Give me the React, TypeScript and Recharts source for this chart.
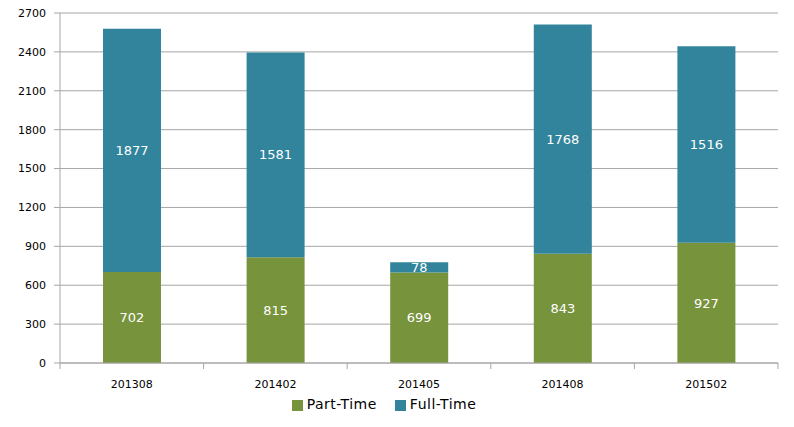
import { BarChart, Bar, XAxis, YAxis, CartesianGrid, Legend, LabelList } from "recharts";

const periods = ["201308", "201402", "201405", "201408", "201502"];
const partTime = [702, 815, 699, 843, 927];
const fullTime = [1877, 1581, 78, 1768, 1516];
const yTicks = [0, 300, 600, 900, 1200, 1500, 1800, 2100, 2400, 2700];

const data = periods.map((p, i) => ({
  period: p,
  idx: i + 0.5,
  part: partTime[i],
  full: fullTime[i],
}));

const font = "Tahoma, 'DejaVu Sans', sans-serif";

export default function App() {
  return (
    <div style={{ fontFamily: font }}>
      <BarChart
        width={778}
        height={411}
        data={data}
        margin={{ top: 5, right: 8, bottom: 7, left: 0 }}
      >
        <CartesianGrid vertical={false} stroke="#a6a6a6" />
        {/* tick marks between categories */}
        <XAxis
          xAxisId="a"
          type="number"
          dataKey="idx"
          domain={[0, 5]}
          ticks={[0, 1, 2, 3, 4, 5]}
          tickFormatter={() => ""}
          tickSize={6}
          tickLine={{ stroke: "#a6a6a6" }}
          axisLine={{ stroke: "#a6a6a6" }}
          height={1}
        />
        <XAxis
          dataKey="period"
          xAxisId="b"
          tickLine={false}
          axisLine={false}
          tick={{ fill: "#000", fontSize: 11 }}
          tickMargin={10}
          height={32}
        />
        <YAxis
          width={52}
          domain={[0, 2700]}
          ticks={yTicks}
          interval={0}
          tickSize={6}
          tickMargin={8}
          tickLine={{ stroke: "#a6a6a6" }}
          axisLine={{ stroke: "#a6a6a6" }}
          tick={{ fill: "#000", fontSize: 11 }}
        />
        <Legend
          verticalAlign="bottom"
          iconType="square"
          iconSize={11}
          itemSorter={(item: any) => (item.value === "Part-Time" ? 0 : 1)}
          wrapperStyle={{ fontSize: 14, color: "#000", paddingTop: 0, letterSpacing: 0.5 }}
          formatter={(v) => <span style={{ color: "#000", marginRight: 8 }}>{v}</span>}
        />
        <Bar
          dataKey="part"
          name="Part-Time"
          stackId="s"
          xAxisId="b"
          fill="#77933c"
          barSize={58}
          isAnimationActive={false}
        >
          <LabelList dataKey="part" position="center" fill="#fff" fontSize={13} />
        </Bar>
        <Bar
          dataKey="full"
          name="Full-Time"
          stackId="s"
          xAxisId="b"
          fill="#31849b"
          barSize={58}
          isAnimationActive={false}
        >
          <LabelList dataKey="full" position="center" fill="#fff" fontSize={13} />
        </Bar>
      </BarChart>
    </div>
  );
}
